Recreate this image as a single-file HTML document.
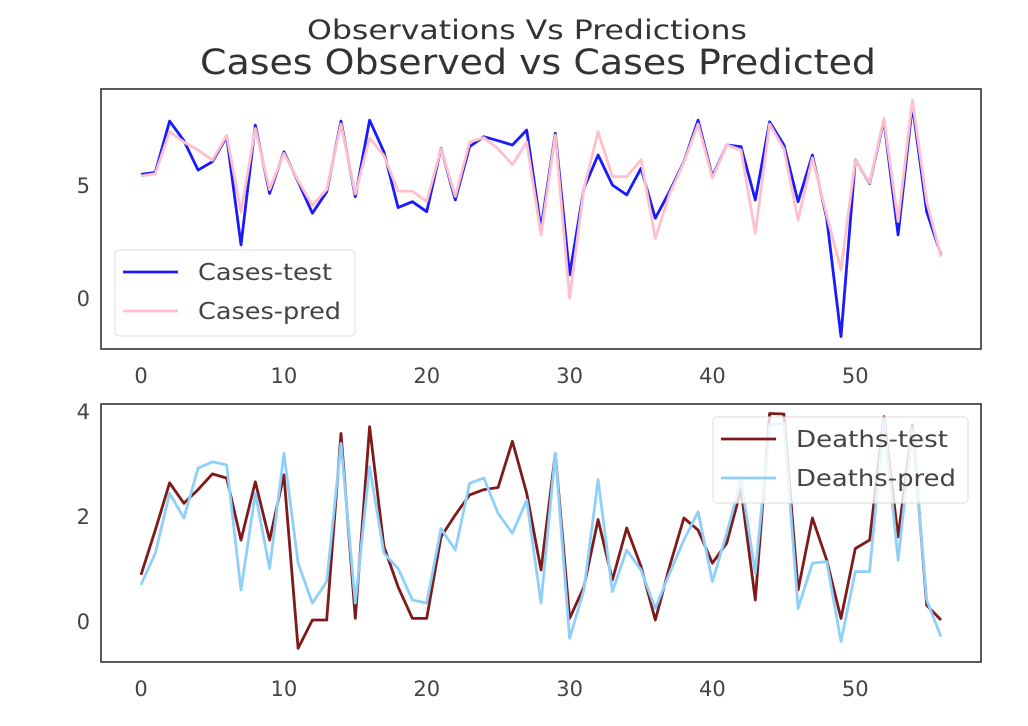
<!DOCTYPE html>
<html><head><meta charset="utf-8"><style>
html,body{margin:0;padding:0;background:#fff;}
svg{display:block;font-family:"DejaVu Sans","Liberation Sans",sans-serif;}
</style></head><body>
<svg id="chart" width="1028" height="726" viewBox="0 0 1028 726">
<rect width="1028" height="726" fill="#fff"/>
<text x="527" y="39" font-size="27" fill="#333" text-anchor="middle" textLength="440" lengthAdjust="spacingAndGlyphs">Observations Vs Predictions</text>
<text x="538" y="74" font-size="35" fill="#333" text-anchor="middle" textLength="676" lengthAdjust="spacingAndGlyphs">Cases Observed vs Cases Predicted</text>
<g id="top"></g>
<g id="bottom"></g>
</svg>
<script>
const indices = Array.from({length:57},(_,i)=>i);
const casesTest = [5.47,5.56,7.83,6.96,5.66,6.03,7.14,2.35,7.65,4.63,6.47,5.15,3.75,4.7,7.83,4.48,7.87,6.47,4.0,4.26,3.82,6.62,4.34,6.7,7.14,6.96,6.77,7.43,3.08,7.29,1.02,4.85,6.33,5.0,4.56,5.74,3.53,4.72,6.03,7.87,5.37,6.77,6.7,4.34,7.8,6.77,4.26,6.33,3.53,-1.71,6.11,5.07,7.87,2.79,8.54,3.82,1.9];
const casesPred = [5.4,5.5,7.36,6.9,6.55,6.1,7.2,3.8,7.5,4.8,6.4,5.2,4.1,4.8,7.7,4.6,7.07,6.3,4.73,4.73,4.26,6.6,4.5,6.9,7.1,6.6,5.9,6.9,2.79,7.2,-0.01,4.85,7.36,5.37,5.37,6.11,2.64,4.6,6.0,7.7,5.3,6.77,6.55,2.86,7.7,6.6,3.45,6.2,3.67,1.24,6.1,5.1,7.95,3.38,8.76,4.26,1.83];
const deathsTest = [0.88,1.73,2.63,2.24,2.5,2.8,2.72,1.54,2.65,1.54,2.78,-0.52,0.02,0.02,3.57,0.05,3.7,1.42,0.65,0.05,0.05,1.6,2.02,2.4,2.5,2.54,3.42,2.43,0.97,3.19,0.05,0.65,1.93,0.78,1.77,1.04,0.02,1.04,1.96,1.73,1.1,1.48,2.5,0.4,3.95,3.94,0.59,1.96,1.16,0.05,1.38,1.54,3.89,1.6,3.73,0.3,0.02];
const deathsPred = [0.69,1.29,2.43,1.96,2.91,3.03,2.97,0.59,2.43,1.0,3.19,1.1,0.34,0.75,3.38,0.34,2.94,1.29,1.0,0.4,0.34,1.76,1.35,2.62,2.72,2.05,1.67,2.3,0.34,3.19,-0.33,0.59,2.69,0.56,1.35,0.97,0.24,0.91,1.54,2.08,0.75,1.67,2.69,0.91,3.73,3.76,0.24,1.1,1.13,-0.39,0.94,0.94,3.83,1.16,3.64,0.4,-0.3];
const xTicks = [0,10,20,30,40,50];
const topYTicks = [0,5];
const bottomYTicks = [0,2,4];

const NS="http://www.w3.org/2000/svg";
function mk(tag, parent, attrs){const e=document.createElementNS(NS,tag);for(const k in attrs)e.setAttribute(k,attrs[k]);parent.appendChild(e);return e;}
const X0=101,X1=981, xmin=-2.8, xmax=58.8;
const xs = v => X0+(v-xmin)/(xmax-xmin)*(X1-X0);

function panel(g, top, bottom, ymin, ymax, yTicks, series, legend, name){
  const ys = v => bottom-(v-ymin)/(ymax-ymin)*(bottom-top);
  series.forEach(s=>{
    const pts = s.data.map((v,i)=>xs(indices[i]).toFixed(1)+","+ys(v).toFixed(1)).join(" ");
    const pl = mk('polyline', g, {points:pts, fill:'none', stroke:s.color, 'stroke-width':2.8, 'stroke-linejoin':'round'});
    
    
  });
  const fr = mk('rect', g, {x:X0, y:top, width:X1-X0, height:bottom-top, fill:'none', stroke:'#333', 'stroke-width':1.6});
  
  
  xTicks.forEach(t=>{
    const tx = mk('text', g, {x:xs(t), y:bottom+34, 'font-size':21, fill:'#444', 'text-anchor':'middle'});
    tx.textContent = t;
    
    
  });
  yTicks.forEach(t=>{
    const ty = mk('text', g, {x:90, y:ys(t)+8, 'font-size':21, fill:'#444', 'text-anchor':'end'});
    ty.textContent = t;
    
    
  });
  const lg = mk('g', g, {});
  
  
  mk('rect', lg, {x:legend.x, y:legend.y, width:legend.w, height:86, rx:4, fill:'#fff', 'fill-opacity':0.8, stroke:'#ddd', 'stroke-width':1});
  series.forEach((s,k)=>{
    const yy = legend.y+22+k*39;
    const ln = mk('line', lg, {x1:legend.x+8, x2:legend.x+63, y1:yy, y2:yy, stroke:s.color, 'stroke-width':2.8});
    
    
    const lt = mk('text', lg, {x:legend.x+83, y:yy+8, 'font-size':23, fill:'#444', textLength:s.tl, lengthAdjust:'spacingAndGlyphs'});
    lt.textContent = s.label;
    
    
  });
}
panel(document.getElementById('top'), 89, 349, -2.26, 9.25, topYTicks,
  [{data:casesTest,color:'#1a1aff',name:'cases-test',label:'Cases-test',tl:134},
   {data:casesPred,color:'#ffc0cb',name:'cases-pred',label:'Cases-pred',tl:143}],
  {x:115,y:250,w:240}, 'top');
panel(document.getElementById('bottom'), 404, 662, -0.78, 4.13, bottomYTicks,
  [{data:deathsTest,color:'#7f1a1a',name:'deaths-test',label:'Deaths-test',tl:152},
   {data:deathsPred,color:'#8fd0fa',name:'deaths-pred',label:'Deaths-pred',tl:160}],
  {x:713,y:417,w:255}, 'bottom');
</script>
</body></html>
